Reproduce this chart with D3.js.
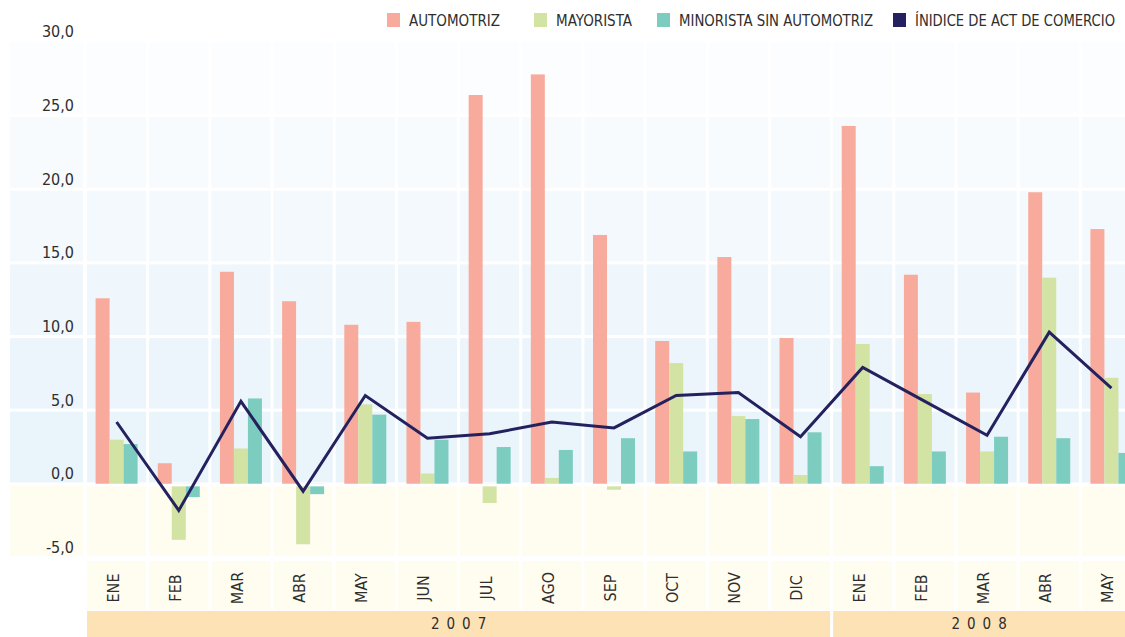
<!DOCTYPE html>
<html>
<head>
<meta charset="utf-8">
<script src="https://cdn.jsdelivr.net/npm/d3@7"></script>
<style>
  html, body { margin: 0; padding: 0; background: #ffffff; }
  svg { display: block; }
  text { font-family: "Liberation Sans Narrow", "DejaVu Sans Condensed", "Liberation Sans", sans-serif; fill: #2e2e2e; }
</style>
</head>
<body>
<svg id="chart" width="1125" height="637"></svg>
<script>
// ---------- DATA ----------
const months = ["ENE","FEB","MAR","ABR","MAY","JUN","JUL","AGO","SEP","OCT","NOV","DIC","ENE","FEB","MAR","ABR","MAY"];
const years = ["2007", "2008"];
const monthsPerYear = [12, 5];
const automotriz = [12.6, 1.4, 14.4, 12.4, 10.8, 11.0, 26.4, 27.8, 16.9, 9.7, 15.4, 9.9, 24.3, 14.2, 6.2, 19.8, 17.3];
const mayorista  = [3.0, -3.8, 2.4, -4.1, 5.4, 0.7, -1.3, 0.4, -0.4, 8.2, 4.6, 0.6, 9.5, 6.1, 2.2, 14.0, 7.2];
const minorista  = [2.7, -0.9, 5.8, -0.7, 4.7, 3.0, 2.5, 2.3, 3.1, 2.2, 4.4, 3.5, 1.2, 2.2, 3.2, 3.1, 2.1];
const indice     = [4.2, -1.8, 5.6, -0.5, 6.0, 3.1, 3.4, 4.2, 3.8, 6.0, 6.2, 3.2, 7.9, 5.6, 3.3, 10.3, 6.5];
const seriesNames = ["AUTOMOTRIZ", "MAYORISTA", "MINORISTA SIN AUTOMOTRIZ", "ÍNIDICE DE ACT DE COMERCIO"];
const yTicks = [-5, 0, 5, 10, 15, 20, 25, 30];

// ---------- STYLE / LAYOUT ----------
const colors = ["#f8ab9c", "#d2e3a3", "#7ccdc0", "#24215e"];
const bandColors = { "-5": "#fffcf0", "0": "#e9f4fb", "5": "#edf5fc", "10": "#eff7fc", "15": "#f3f9fd", "20": "#f7fbfe", "25": "#fcfdff" };
const creamRow = "#fffcf0";
const yearFill = "#fde2b6";
const legendX = [387, 534, 657, 893];
const legendW = [91, 76, 194, 200];

const svg = d3.select("#chart");
const W = 1125;

const x = d3.scaleBand().domain(d3.range(months.length)).range([87, 87 + 62 * months.length]).paddingInner(3 / 62).paddingOuter(0);
const y = d3.scaleLinear().domain([-5, 30]).range([557.5, 42]);
const seriesIdx = d3.scaleBand().domain([0, 1, 2]).range([-21, 21]);

const fmt = d3.formatLocale({ decimal: ",", thousands: ".", grouping: [3], currency: ["", ""], minus: "-" }).format(".1f");

// ---------- background cells ----------
const bands = yTicks.slice(0, -1);
const cols = [{ x0: 10, x1: 83 }].concat(d3.range(months.length).map(i => ({ x0: x(i), x1: Math.min(x(i) + x.bandwidth(), W + 5) })));
const bg = svg.append("g");
cols.forEach(c => {
  bands.forEach(b => {
    const top = y(b + 5) + (b + 5 === 30 ? 0 : 1.5);
    const bot = y(b) - 1.5;
    bg.append("rect").attr("x", c.x0).attr("y", top).attr("width", c.x1 - c.x0).attr("height", bot - top)
      .attr("fill", bandColors[String(b)]);
  });
});
// month label row cells
d3.range(months.length).forEach(i => {
  bg.append("rect").attr("x", x(i)).attr("y", 561).attr("width", x.bandwidth()).attr("height", 49).attr("fill", creamRow);
});
// year bars
let start = 0;
years.forEach((yr, k) => {
  const i0 = start, i1 = start + monthsPerYear[k] - 1;
  const x0 = x(i0), x1 = Math.min(x(i1) + x.bandwidth(), W + 5);
  bg.append("rect").attr("x", x0).attr("y", 611).attr("width", x1 - x0).attr("height", 30).attr("fill", yearFill);
  const cx = (x0 + Math.min(x1, W)) / 2;
  svg.append("text").attr("x", cx + 3.5).attr("y", 629).attr("text-anchor", "middle")
    .attr("font-size", 15).attr("letter-spacing", "7px").text(yr);
  start += monthsPerYear[k];
});

// ---------- y axis labels ----------
const yAxis = d3.axisLeft(y).tickValues(yTicks).tickFormat(fmt).tickSize(0).tickPadding(0);
const ya = svg.append("g").attr("transform", "translate(74,0)").call(yAxis);
ya.select(".domain").remove();
ya.attr("font-family", null);
ya.selectAll("text").attr("font-size", 16).attr("dy", "-0.32em").attr("fill", "#2e2e2e");

// ---------- bars ----------
const series = [automotriz, mayorista, minorista];
const barsG = svg.append("g");
series.forEach((vals, s) => {
  barsG.selectAll(null).data(vals).enter().append("rect")
    .attr("x", (d, i) => x(i) + x.bandwidth() / 2 + seriesIdx(s))
    .attr("width", seriesIdx.bandwidth())
    .attr("y", d => y(Math.max(0, d)))
    .attr("height", d => Math.abs(y(d) - y(0)))
    .attr("fill", colors[s]);
});
// white separator at zero (between positive and negative bands)
d3.range(months.length).forEach(i => {
  barsG.append("rect").attr("x", x(i)).attr("y", y(0)).attr("width", x.bandwidth()).attr("height", 2.5).attr("fill", "#ffffff");
});
barsG.append("rect").attr("x", 83).attr("y", y(0)).attr("width", 4).attr("height", 2.5).attr("fill", "#ffffff");

// ---------- line ----------
const line = d3.line().x((d, i) => x(i) + x.bandwidth() / 2).y(d => y(d));
svg.append("path").datum(indice).attr("d", line).attr("fill", "none")
  .attr("stroke", colors[3]).attr("stroke-width", 3).attr("stroke-linejoin", "miter");

// ---------- month labels ----------
const xAxis = d3.axisBottom(x).tickFormat(i => months[i]).tickSize(0).tickPadding(0);
const xa = svg.append("g").attr("transform", "translate(0,588)").call(xAxis);
xa.select(".domain").remove();
xa.attr("font-family", null);
xa.selectAll("text")
  .attr("font-size", 16).attr("fill", "#2e2e2e")
  .attr("transform", "rotate(-90)").attr("text-anchor", "middle")
  .attr("x", 0).attr("y", 0).attr("dy", "0.12em");

// ---------- legend ----------
const lg = svg.append("g");
seriesNames.forEach((name, i) => {
  lg.append("rect").attr("x", legendX[i]).attr("y", 13).attr("width", 13).attr("height", 14).attr("fill", colors[i]);
  lg.append("text").attr("x", legendX[i] + 22).attr("y", 26).attr("font-size", 15)
    .attr("textLength", legendW[i]).attr("lengthAdjust", "spacingAndGlyphs").text(name);
});
</script>
</body>
</html>
